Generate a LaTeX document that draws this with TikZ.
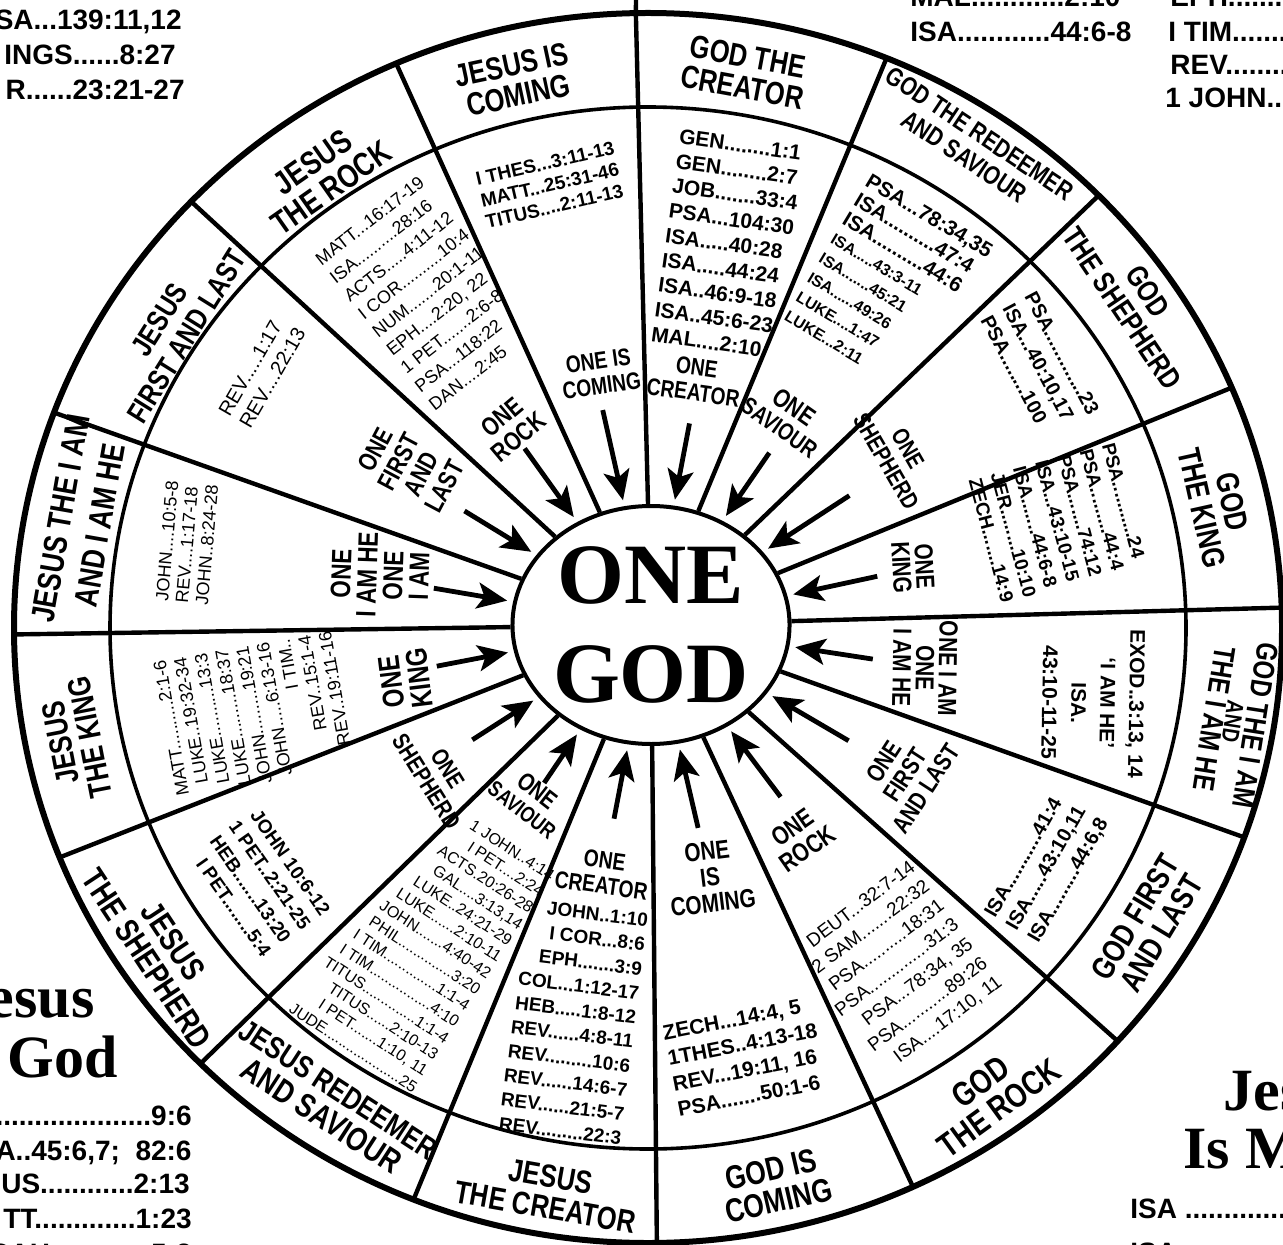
\documentclass[tikz,border=0pt]{standalone}
\usepackage{fontspec}
\setmainfont{Liberation Sans}
\newfontfamily\narrowsf{Liberation Sans}[FakeStretch=0.8]
\newfontfamily\bookserif{Liberation Serif}
\usetikzlibrary{arrows.meta,shapes.geometric}

\newcommand\fsz[2]{\fontsize{#1}{#2}\selectfont}

\tikzset{
  rim/.style={draw=black, line width=3pt},
  band edge/.style={draw=black, line width=1.8pt},
  spoke/.style={draw=black, line width=2.2pt},
  one god/.style={
    ellipse, draw=black, line width=2pt, fill=white, inner sep=0pt,
    minimum width=128pt, minimum height=119pt, align=center,
    font=\bookserif\bfseries\fsz{43}{49.5}
  },
  to god/.style={
    draw=black, line width=2.4pt, shorten >=3pt,
    -{Stealth[length=15pt, width=13pt, inset=3.5pt]}
  },
  title/.style={inner sep=0pt, align=center, font=\narrowsf\bfseries\fsz{16}{15.5}},
  one label/.style={inner sep=0pt, align=center, font=\narrowsf\bfseries\fsz{12}{12.5}},
  verses/.style={inner sep=0pt, font=\bfseries\fsz{10}{12}},
  page text/.style={inner sep=0pt, font=\bfseries\fsz{14}{16}},
  page head/.style={inner sep=0pt, font=\bookserif\bfseries\fsz{30}{32}}
}

\begin{document}
\begin{tikzpicture}[x=0.5pt, y=-0.5pt]
\useasboundingbox (0,0) rectangle (1283,1245);
\clip (0,0) rectangle (1283,1245);

% ------------------------------------------------
% wheel: rings, centre, spokes, arrows
% ------------------------------------------------
\draw[rim] (648,628) ellipse [x radius=634, y radius=615];
\draw[band edge] (648,628) ellipse [x radius=538, y radius=521];
\node[one god] (god) at (651,625) {ONE\\GOD};

\foreach \a [count=\i] in {91.1,67.9,44.7,23.0,1.9,-19.9,-42.2,-65.3,
                           -89.2,-111.7,-134.9,-158.1,-179.4,159.5,136.1,113.4}{
  \coordinate (b\i) at ({648+634*cos(\a)},{628-615*sin(\a)});
  \draw[spoke] (god) -- (b\i);
}
% the top spoke runs on to the page edge
\coordinate (topEdge) at (636,0);
\draw[spoke] (b1) -- (topEdge);

\foreach \a/\r [count=\i] in {79.5/205,56.3/207,33.9/232,12.5/225,-9/218,-31.1/224,
                              -53.8/213,-77.3/208,-100.5/197,-123.3/189,-146.5/208,
                              -168.8/212,170.1/214,147.8/214,124.8/215,102.3/220}{
  \coordinate (a\i) at ({651+1.03*\r*cos(\a)},{625-\r*sin(\a)});
  \draw[to god] (a\i) -- (god);
}

% ------------------------------------------------
% outer band: titles
% ------------------------------------------------
\node[title, rotate=-10.5] (tGodCreator) at (745,72) {GOD THE\\CREATOR};
\node[title, rotate=-33.7, font=\narrowsf\bfseries\fsz{13}{14}] (tGodSaviour) at (972,145) {GOD THE REDEEMER\\AND SAVIOUR};
\node[title, rotate=-56, font=\narrowsf\bfseries\fsz{15}{15.5}] (tGodShepherd) at (1135,300) {GOD\\THE SHEPHERD};
\node[title, rotate=-77.5] (tGodKing) at (1217,505) {GOD\\THE KING};
\node[title, rotate=-99, font=\narrowsf\bfseries\fsz{15}{10.5}] (tGodIAm) at (1235,722) {GOD THE I AM\\{\fsz{12}{10.5}AND}\\THE I AM HE};
\node[title, rotate=59] (tGodFirst) at (1148,925) {GOD FIRST\\AND LAST};
\node[title, rotate=36, font=\narrowsf\bfseries\fsz{17}{16}] (tGodRock) at (990,1095) {GOD\\THE ROCK};
\node[title, rotate=13, font=\narrowsf\bfseries\fsz{16.5}{16}] (tGodComing) at (775,1185) {GOD IS\\COMING};
\node[title, rotate=-10] (tJesusCreator) at (548,1192) {JESUS\\THE CREATOR};
\node[title, rotate=-33, font=\narrowsf\bfseries\fsz{15.5}{16}] (tJesusSaviour) at (330,1103) {JESUS REDEEMER\\{\fsz{16.5}{16}AND SAVIOUR}};
\node[title, rotate=-56.5, font=\narrowsf\bfseries\fsz{16.5}{16}] (tJesusShepherd) at (160,950) {JESUS\\THE SHEPHERD};
\node[title, rotate=101, font=\narrowsf\bfseries\fsz{16}{15}] (tJesusKing) at (75,740) {JESUS\\THE KING};
\node[title, rotate=80, font=\narrowsf\bfseries\fsz{16.5}{20}] (tJesusIAm) at (80,522) {JESUS THE I AM\\AND I AM HE};
\node[title, rotate=58, font=\narrowsf\bfseries\fsz{15}{16}] (tJesusFirst) at (173,328) {JESUS\\FIRST AND LAST};
\node[title, rotate=35, font=\narrowsf\bfseries\fsz{16.5}{16}] (tJesusRock) at (322,175) {JESUS\\THE ROCK};
\node[title, rotate=12] (tJesusComing) at (515,80) {JESUS IS\\COMING};

% ------------------------------------------------
% inner band: verses
% ------------------------------------------------
\node[verses, align=left, rotate=-8, font=\bfseries\fsz{10.5}{12.5}] (vGodCreator) at (728,244)
  {GEN........1:1\\GEN........2:7\\JOB.......33:4\\PSA...104:30\\ISA.....40:28\\ISA.....44:24\\ISA..46:9-18\\ISA..45:6-23\\MAL....2:10};
\node[verses, align=left, rotate=-31, font=\bfseries\fsz{10.5}{11.2}] (vGodSaviour) at (889,283)
  {PSA...78:34,35\\ISA..........47:4\\ISA..........44:6\\{\fsz{8}{11.2}ISA.....43:3-11}\\{\fsz{8}{11.2}ISA.......45:21}\\{\fsz{8}{11.2}ISA......49:26}\\{\fsz{8}{11.2}LUKE....1:47}\\{\fsz{8}{11.2}LUKE...2:11}};
\node[verses, align=left, rotate=-62, font=\bfseries\fsz{10}{12.5}] (vGodShepherd) at (1040,365)
  {PSA.............23\\ISA...40:10,17\\PSA........100};
\node[verses, align=left, rotate=-75, font=\bfseries\fsz{9.5}{11.5}] (vGodKing) at (1058,523)
  {PSA...........24\\PSA.........44:4\\PSA.......74:12\\ISA...43:10-15\\ISA.......44:6-8\\JER........10:10\\ZECH.......14:9};
\node[verses, align=center, rotate=-91, font=\bfseries\fsz{10.5}{14.5}] (vGodIAm) at (1093,703)
  {EXOD..3:13, 14\\`I AM HE'\\ISA.\\43:10-11-25};
\node[verses, align=left, rotate=60, font=\bfseries\fsz{10}{12.5}] (vGodFirst) at (1047,868)
  {ISA...........41:4\\ISA.....43:10,11\\ISA.........44:6,8};
\node[verses, align=right, rotate=37, font=\mdseries\fsz{9.5}{12}] (vGodRock) at (897,968)
  {DEUT...32:7-14\\2 SAM.......22:32\\PSA..........18:31\\PSA..............31:3\\PSA...78:34, 35\\PSA...........89:26\\ISA....17:10, 11};
\node[verses, align=left, rotate=11, font=\bfseries\fsz{10.5}{13}] (vGodComing) at (745,1057)
  {ZECH...14:4, 5\\1THES..4:13-18\\REV...19:11, 16\\PSA.......50:1-6};
\node[verses, align=right, rotate=-7, font=\bfseries\fsz{9.5}{12.2}] (vJesusCreator) at (573,1022)
  {JOHN..1:10\\I COR...8:6\\EPH.......3:9\\COL...1:12-17\\HEB.....1:8-12\\REV......4:8-11\\REV.........10:6\\REV......14:6-7\\REV......21:5-7\\REV.........22:3};
\node[verses, align=right, rotate=-33, font=\mdseries\fsz{8}{9.7}] (vJesusSaviour) at (422,942)
  {1 JOHN..4:14\\I PET....2:24\\ACTS.20:26-28\\GAL....3:13,14\\LUKE..24:21-29\\LUKE......2:10-11\\JOHN.......4:40-42\\PHIL..............3:20\\I TIM..............1:1-4\\I TIM................4:10\\TITUS..............1:1-4\\TITUS......2:10-13\\I PET.......1:10, 11\\JUDE....................25};
\node[verses, align=right, rotate=-55, font=\bfseries\fsz{9.5}{12}] (vJesusShepherd) at (260,882)
  {JOHN 10:6-12\\1 PET..2:21-25\\HEB.......13:20\\I PET........5:4};
\node[verses, align=right, rotate=100, font=\mdseries\fsz{9}{10.5}] (vJesusKing) at (254,715)
  {MATT..........2:1-6\\LUKE..19:32-34\\LUKE..........13:3\\LUKE.........18:37\\JOHN.........19:21\\JOHN.....6:13-16\\I TIM..\\REV..15:1-4\\REV..19:11-16};
\node[verses, align=left, rotate=85, font=\mdseries\fsz{9}{10}] (vJesusIAm) at (187,543)
  {JOHN....10:5-8\\REV....1:17-18\\JOHN..8:24-28};
\node[verses, align=left, rotate=60, font=\mdseries\fsz{10}{12}] (vJesusFirst) at (262,372)
  {REV.....1:17\\REV....22:13};
\node[verses, align=left, rotate=38, font=\mdseries\fsz{9}{11.5}] (vJesusRock) at (428,292)
  {MATT...16:17-19\\ISA..........28:16\\ACTS.....4:11-12\\I COR..........10:4\\NUM.......20:1-11\\EPH....2:20, 22\\1 PET.......2:6-8\\PSA...118:22\\DAN....2:45};
\node[verses, align=left, rotate=13, font=\bfseries\fsz{9.5}{11}] (vJesusComing) at (550,185)
  {I THES...3:11-13\\MATT...25:31-46\\TITUS....2:11-13};

% ------------------------------------------------
% inner band: ONE ... labels beside the arrows
% ------------------------------------------------
\node[one label, rotate=-8] (oGodCreator) at (695,380) {ONE\\CREATOR};
\node[one label, rotate=-35] (oGodSaviour) at (787,417) {{\fsz{13}{12.5}ONE}\\SAVIOUR};
\node[one label, rotate=-60] (oGodShepherd) at (897,455) {ONE\\SHEPHERD};
\node[one label, rotate=-87, font=\narrowsf\bfseries\fsz{13}{11.5}] (oGodKing) at (913,567) {ONE\\KING};
\node[one label, rotate=-91, font=\narrowsf\bfseries\fsz{13}{11.5}] (oGodIAm) at (925,668) {ONE I AM\\ONE\\I AM HE};
\node[one label, rotate=57, font=\narrowsf\bfseries\fsz{12.5}{12.5}] (oGodFirst) at (905,775) {ONE\\FIRST\\AND LAST};
\node[one label, rotate=35, font=\narrowsf\bfseries\fsz{13}{13}] (oGodRock) at (800,838) {ONE\\ROCK};
\node[one label, rotate=7, font=\narrowsf\bfseries\fsz{13}{13}] (oGodComing) at (710,877) {ONE\\IS\\COMING};
\node[one label, rotate=-8] (oJesusCreator) at (603,873) {ONE\\CREATOR};
\node[one label, rotate=-38, font=\narrowsf\bfseries\fsz{11}{12}] (oJesusSaviour) at (530,800) {{\fsz{12.5}{12}ONE}\\SAVIOUR};
\node[one label, rotate=-58] (oJesusShepherd) at (437,775) {ONE\\SHEPHERD};
\node[one label, rotate=97, font=\narrowsf\bfseries\fsz{15}{14}] (oJesusKing) at (405,680) {ONE\\KING};
\node[one label, rotate=88, font=\narrowsf\bfseries\fsz{14}{13}] (oJesusIAm) at (380,575) {ONE\\I AM HE\\ONE\\I AM};
\node[one label, rotate=62, font=\narrowsf\bfseries\fsz{13}{13}] (oJesusFirst) at (410,468) {ONE\\FIRST\\AND\\LAST};
\node[one label, rotate=40, font=\narrowsf\bfseries\fsz{13}{13}] (oJesusRock) at (510,427) {ONE\\ROCK};
\node[one label, rotate=8] (oJesusComing) at (600,373) {ONE IS\\COMING};

% ------------------------------------------------
% page text cut by the edges
% ------------------------------------------------
\node[page text, anchor=base east] (pLeft1) at (182,30) {SA...139:11,12};
\node[page text, anchor=base east] (pLeft2) at (176,65) {INGS......8:27};
\node[page text, anchor=base east] (pLeft3) at (185,100) {R......23:21-27};
\node[page text, anchor=base west] (pTop1) at (910,7) {MAL............2:10};
\node[page text, anchor=base west] (pTop2) at (910,42) {ISA............44:6-8};
\node[page text, anchor=base west] (pRight1) at (1170,7) {EPH..........};
\node[page text, anchor=base west] (pRight2) at (1168,42) {I TIM.........};
\node[page text, anchor=base west] (pRight3) at (1170,75) {REV.........};
\node[page text, anchor=base west] (pRight4) at (1165,108) {1 JOHN....};

\node[page head, anchor=base east] (hJesus) at (95,1017) {esus};
\node[page head, anchor=base east] (hGod) at (118,1077) {s God};
\node[page text, anchor=base east] (pLow1) at (192,1125) {.........................9:6};
\node[page text, anchor=base east] (pLow2) at (192,1160) {A..45:6,7;\ \ 82:6};
\node[page text, anchor=base east] (pLow3) at (190,1193) {US............2:13};
\node[page text, anchor=base east] (pLow4) at (192,1228) {TT.............1:23};
\node[page text, anchor=base east] (pLow5) at (192,1263) {CAH.............5:2};

\node[page head, anchor=base west] (hJes) at (1223,1110) {Jes};
\node[page head, anchor=base west] (hIsM) at (1183,1168) {Is M};
\node[page text, anchor=base west] (pLowR1) at (1130,1218) {ISA ..............};
\node[page text, anchor=base west] (pLowR2) at (1130,1262) {ISA};
\end{tikzpicture}
\end{document}
